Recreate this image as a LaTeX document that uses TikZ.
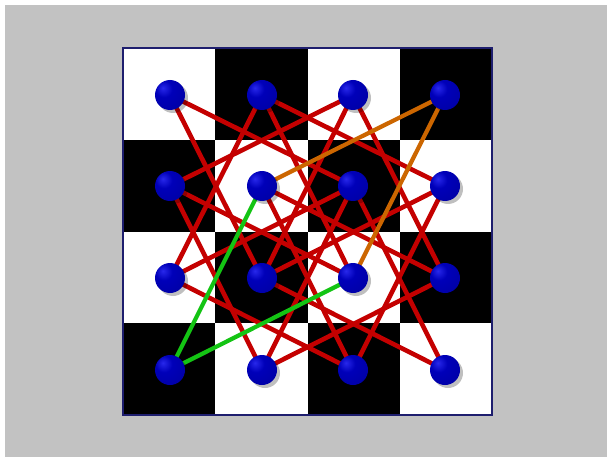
\documentclass[tikz,border=0pt]{standalone}
\definecolor{bggrey}{RGB}{194,194,194}
\definecolor{knightred}{RGB}{196,0,0}
\definecolor{knightorange}{RGB}{204,102,0}
\definecolor{knightgreen}{RGB}{20,196,20}
\definecolor{boardnavy}{RGB}{30,30,110}
\definecolor{ballhi}{RGB}{40,40,235}
\definecolor{ballmid}{RGB}{0,0,185}
\definecolor{balldark}{RGB}{0,0,95}
\pgfdeclareradialshading{knightball}{\pgfpoint{-12bp}{12bp}}{%
  color(0bp)=(ballhi); color(14bp)=(ballmid); color(48bp)=(ballmid!70!balldark); color(66bp)=(balldark); color(100bp)=(balldark)}
\tikzset{
  redmove/.style={draw=knightred,line width=4.6pt},
  orangemove/.style={draw=knightorange,line width=4.2pt},
  greenmove/.style={draw=knightgreen,line width=4.2pt},
  ballnode/.style={circle,minimum size=30pt,inner sep=0pt,shading=knightball},
  ballshadow/.style={circle,minimum size=30pt,inner sep=0pt,fill=black,opacity=0.25},
}
\begin{document}
\begin{tikzpicture}[x=1pt,y=-1pt]
\useasboundingbox (0,0) rectangle (607,457);
\fill[white] (0,0) rectangle (607,457);
\fill[bggrey] (5,5) rectangle (607,457);
% board
\fill[white] (123,48) rectangle (492,415);
\foreach \c in {0,1,2,3}{
  \foreach \r in {0,1,2,3}{
    \pgfmathtruncatemacro{\sqpar}{mod(\c+\r,2)}
    \ifnum\sqpar=1
      \fill[black] ({123+\c*92.25},{48+\r*91.75}) rectangle ({123+(\c+1)*92.25},{48+(\r+1)*91.75});
    \fi
  }
}
\draw[boardnavy,line width=2pt] (123,48) rectangle (492,415);
% ball positions
\foreach \c/\x in {0/170,1/262,2/353,3/445}{
  \foreach \r/\y in {0/95,1/186,2/278,3/370}{
    \coordinate (p\c\r) at (\x,\y);
  }
}
% red knight moves
\foreach \a/\b in {00/21,00/12,10/31,10/22,10/02,20/01,20/12,20/32,
                   01/22,01/13,11/32,11/23,21/02,21/13,21/33,
                   02/23,12/33,12/31,31/23,32/13}{
  \draw[redmove] (p\a) -- (p\b);
}
% coloured moves
\draw[orangemove] (p30) -- (p11);
\draw[orangemove] (p30) -- (p22);
\draw[greenmove] (p03) -- (p11);
\draw[greenmove] (p03) -- (p22);
% balls
\foreach \c in {0,1,2,3}{
  \foreach \r in {0,1,2,3}{
    \node[ballshadow] (s\c\r) at ([shift={(3,3)}]p\c\r) {};
    \node[ballnode] (b\c\r) at (p\c\r) {};
  }
}
\end{tikzpicture}
\end{document}
